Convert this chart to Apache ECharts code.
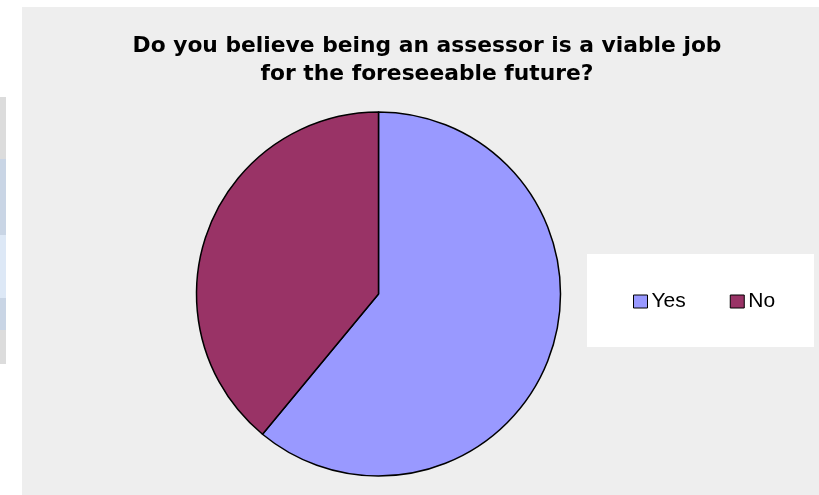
<!DOCTYPE html>
<html>
<head>
<meta charset="utf-8">
<script src="https://cdn.jsdelivr.net/npm/echarts@6/dist/echarts.min.js"></script>
<style>
  html, body { margin: 0; padding: 0; background: #ffffff; }
  #chart { width: 819px; height: 495px; }
</style>
</head>
<body>
<div id="chart"></div>
<script>
// Survey answers (percent of respondents)
const categories = ['Yes', 'No'];
const shares = [61, 39];
const sliceColors = ['#9999ff', '#993366'];
const titleText = 'Do you believe being an assessor is a viable job\nfor the foreseeable future?';

const chart = echarts.init(document.getElementById('chart'), null, { renderer: 'canvas' });

const pieData = categories.map((name, i) => ({
  name: name,
  value: shares[i],
  itemStyle: { color: sliceColors[i] }
}));

chart.setOption({
  backgroundColor: '#ffffff',
  animation: false,
  graphic: [
    // page strip on the far left
    { type: 'rect', shape: { x: 0, y: 97, width: 6, height: 62 }, style: { fill: '#dcdcdc' }, silent: true },
    { type: 'rect', shape: { x: 0, y: 159, width: 6, height: 76 }, style: { fill: '#c9d5e5' }, silent: true },
    { type: 'rect', shape: { x: 0, y: 235, width: 6, height: 63 }, style: { fill: '#dde8f6' }, silent: true },
    { type: 'rect', shape: { x: 0, y: 298, width: 6, height: 32 }, style: { fill: '#c9d5e5' }, silent: true },
    { type: 'rect', shape: { x: 0, y: 330, width: 6, height: 34 }, style: { fill: '#dcdcdc' }, silent: true },
    // chart area
    { type: 'rect', z: -1, shape: { x: 22, y: 7, width: 797, height: 488 }, style: { fill: '#eeeeee' }, silent: true },
    // legend box
    { type: 'rect', z: 0, shape: { x: 587, y: 254, width: 227, height: 93 }, style: { fill: '#ffffff' }, silent: true }
  ],
  title: {
    text: titleText,
    left: 422,
    top: 27,
    textAlign: 'center',
    textStyle: {
      fontFamily: 'DejaVu Sans',
      fontWeight: 'bold',
      fontSize: 21.8,
      lineHeight: 28,
      color: '#000000'
    }
  },
  legend: {
    data: categories,
    orient: 'horizontal',
    left: 633,
    top: 291,
    padding: 0,
    itemWidth: 14,
    itemHeight: 13,
    itemGap: 44,
    icon: 'rect',
    itemStyle: { borderColor: '#000000', borderWidth: 1 },
    textStyle: {
      fontFamily: 'Liberation Sans',
      fontSize: 21,
      lineHeight: 21,
      color: '#000000',
      padding: [0, 0, 0, -1]
    },
    selectedMode: false
  },
  series: [{
    type: 'pie',
    center: [378.5, 294],
    radius: 182,
    startAngle: 90,
    clockwise: true,
    label: { show: false },
    labelLine: { show: false },
    emphasis: { disabled: true },
    itemStyle: { borderColor: '#000000', borderWidth: 1.5 },
    data: pieData
  }]
});
</script>
</body>
</html>
